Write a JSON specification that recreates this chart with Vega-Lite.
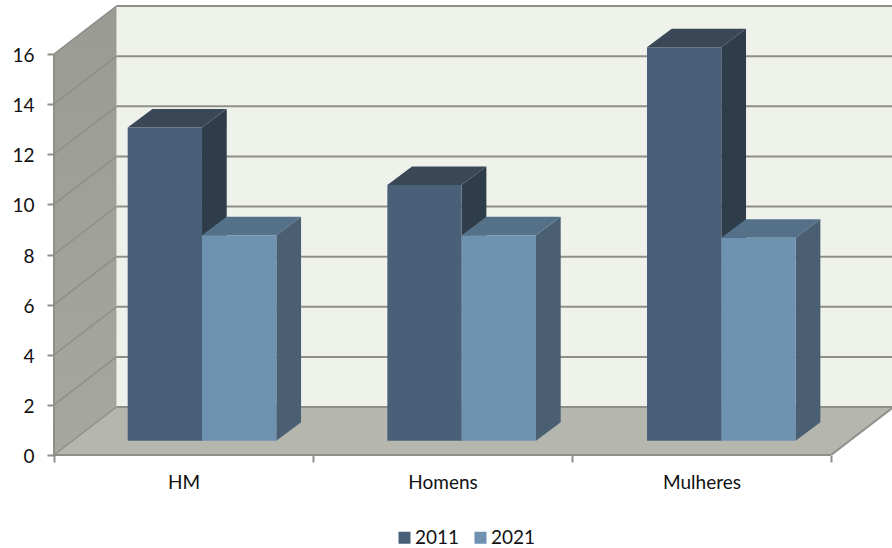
{
  "$schema": "https://vega.github.io/schema/vega-lite/v6.json",
  "width": 838,
  "height": 449,
  "autosize": {"type": "none"},
  "padding": {"left": 54, "top": 6, "right": 0, "bottom": 93},
  "background": "white",
  "config": {"font": "Lato", "view": {"stroke": null}},
  "datasets": {
    "barras": [
      {"categoria": "HM", "ano": 2011, "valor": 12.5},
      {"categoria": "HM", "ano": 2021, "valor": 8.2},
      {"categoria": "Homens", "ano": 2011, "valor": 10.2},
      {"categoria": "Homens", "ano": 2021, "valor": 8.2},
      {"categoria": "Mulheres", "ano": 2011, "valor": 15.7},
      {"categoria": "Mulheres", "ano": 2021, "valor": 8.1}
    ],
    "escala": [
      {"v": 0}, {"v": 2}, {"v": 4}, {"v": 6}, {"v": 8},
      {"v": 10}, {"v": 12}, {"v": 14}, {"v": 16}
    ]
  },
  "layer": [
    {
      "data": {"values": [{"id": 1}]},
      "mark": {"type": "rect", "fill": "#eff2eb"},
      "encoding": {
        "x": {
          "datum": 0.2413,
          "type": "quantitative",
          "title": null,
          "scale": {"domain": [0, 3.2355], "nice": false, "zero": false},
          "axis": {
            "values": [0, 0.5, 1, 1.5, 2, 2.5, 3],
            "labelExpr": "datum.value==0.5?'HM':datum.value==1.5?'Homens':datum.value==2.5?'Mulheres':''",
            "domain": false,
            "grid": false,
            "tickColor": "#8e8f89",
            "tickWidth": 2,
            "tickSize": 7,
            "tickOpacity": {"condition": {"test": "datum.value%1==0", "value": 1}, "value": 0},
            "labelFontSize": 19,
            "labelColor": "#111111",
            "labelPadding": 11,
            "labelFlush": false,
            "labelOverlap": false
          }
        },
        "x2": {"datum": 3.2355},
        "y": {
          "datum": 1.915,
          "type": "quantitative",
          "title": null,
          "scale": {"domain": [0, 17.917], "nice": false, "zero": false},
          "axis": {
            "values": [0, 2, 4, 6, 8, 10, 12, 14, 16],
            "format": "d",
            "domain": false,
            "grid": false,
            "tickColor": "#8e8f89",
            "tickWidth": 2,
            "tickSize": 7,
            "labelFontSize": 19,
            "labelColor": "#111111",
            "labelPadding": 13,
            "labelOffset": 1.5
          }
        },
        "y2": {"datum": 17.917}
      }
    },
    {
      "data": {"values": [{"t": 0}, {"t": 1}]},
      "transform": [
        {"calculate": "datum.t*0.2413", "as": "px"},
        {"calculate": "16+datum.t*1.915", "as": "py"},
        {"calculate": "datum.t*1.915", "as": "py2"}
      ],
      "mark": {
        "type": "area",
        "fill": {
          "gradient": "linear", "x1": 0, "y1": 0, "x2": 0, "y2": 1,
          "stops": [{"offset": 0, "color": "#9a9b93"}, {"offset": 1, "color": "#a6a79e"}]
        }
      },
      "encoding": {
        "x": {"field": "px", "type": "quantitative", "title": null},
        "y": {"field": "py", "type": "quantitative", "stack": null, "title": null},
        "y2": {"field": "py2", "title": null}
      }
    },
    {
      "data": {"values": [{"t": 0}, {"t": 1}, {"t": 2}, {"t": 3}]},
      "transform": [
        {"calculate": "[0,0.2413,3,3.2413][datum.t]", "as": "px"},
        {"calculate": "datum.t==0?0:1.915", "as": "py"},
        {"calculate": "datum.t==3?1.915:0", "as": "py2"}
      ],
      "mark": {"type": "area", "fill": "#b5b7af", "clip": true},
      "encoding": {
        "x": {"field": "px", "type": "quantitative", "title": null},
        "y": {"field": "py", "type": "quantitative", "stack": null, "title": null},
        "y2": {"field": "py2", "title": null}
      }
    },
    {
      "data": {"name": "escala"},
      "transform": [
        {"calculate": "datum.v+1.915", "as": "vf"}
      ],
      "mark": {"type": "rule", "stroke": "#8e8f89", "strokeWidth": 2},
      "encoding": {
        "x": {"datum": 0.2413, "type": "quantitative", "title": null},
        "x2": {"datum": 3.2355},
        "y": {"field": "vf", "type": "quantitative", "title": null}
      }
    },
    {
      "data": {"name": "escala"},
      "transform": [
        {"calculate": "datum.v+1.915", "as": "vf"}
      ],
      "mark": {"type": "rule", "stroke": "#8e8f89", "strokeWidth": 1.5},
      "encoding": {
        "x": {"datum": 0, "type": "quantitative", "title": null},
        "x2": {"datum": 0.2413},
        "y": {"field": "v", "type": "quantitative", "title": null},
        "y2": {"field": "vf", "title": null}
      }
    },
    {
      "data": {"values": [{"id": 1}]},
      "mark": {"type": "rule", "stroke": "#8e8f89", "strokeWidth": 2},
      "encoding": {
        "x": {"datum": 0, "type": "quantitative", "title": null},
        "y": {"datum": 0, "type": "quantitative", "title": null},
        "y2": {"datum": 16}
      }
    },
    {
      "data": {"values": [{"id": 1}]},
      "mark": {"type": "rule", "stroke": "#8e8f89", "strokeWidth": 2},
      "encoding": {
        "x": {"datum": 0, "type": "quantitative", "title": null},
        "x2": {"datum": 3},
        "y": {"datum": 0, "type": "quantitative", "title": null}
      }
    },
    {
      "data": {"values": [{"id": 1}]},
      "mark": {"type": "rule", "stroke": "#8e8f89", "strokeWidth": 2, "clip": true},
      "encoding": {
        "x": {"datum": 3, "type": "quantitative", "title": null},
        "x2": {"datum": 3.2413},
        "y": {"datum": 0, "type": "quantitative", "title": null},
        "y2": {"datum": 1.915}
      }
    },
    {
      "data": {"name": "barras"},
      "transform": [
        {"calculate": "indexof(['HM','Homens','Mulheres'],datum.categoria)*1.0025+0.2845+(datum.ano==2021?0.287:0)", "as": "esq"},
        {"calculate": "0.57+datum.valor", "as": "topo"}
      ],
      "resolve": {"scale": {"color": "independent"}},
      "layer": [
        {
          "transform": [
            {"calculate": "[0,1]", "as": "t"},
            {"flatten": ["t"]},
            {"calculate": "datum.esq+0.287+datum.t*0.0954", "as": "px"},
            {"calculate": "datum.topo+datum.t*0.738", "as": "py"},
            {"calculate": "0.57+datum.t*0.738", "as": "py2"}
          ],
          "mark": {"type": "area"},
          "encoding": {
            "x": {"field": "px", "type": "quantitative", "title": null},
            "y": {"field": "py", "type": "quantitative", "stack": null, "title": null},
            "y2": {"field": "py2", "title": null},
            "detail": {"field": "categoria"},
            "color": {
              "field": "ano",
              "type": "nominal",
              "scale": {"domain": [2011, 2021], "range": ["#2e3d49", "#4a5f72"]},
              "legend": null
            }
          }
        },
        {
          "transform": [
            {"calculate": "[0,1,2,3]", "as": "t"},
            {"flatten": ["t"]},
            {"calculate": "datum.esq+[0,0.0954,0.287,0.3824][datum.t]", "as": "px"},
            {"calculate": "datum.topo+(datum.t==0?0:0.738)", "as": "py"},
            {"calculate": "datum.topo+(datum.t==3?0.738:0)", "as": "py2"}
          ],
          "mark": {"type": "area"},
          "encoding": {
            "x": {"field": "px", "type": "quantitative", "title": null},
            "y": {"field": "py", "type": "quantitative", "stack": null, "title": null},
            "y2": {"field": "py2", "title": null},
            "detail": {"field": "categoria"},
            "color": {
              "field": "ano",
              "type": "nominal",
              "scale": {"domain": [2011, 2021], "range": ["#3a4757", "#557089"]},
              "legend": null
            }
          }
        },
        {
          "transform": [
            {"calculate": "datum.esq+0.287", "as": "dir"},
            {"calculate": "0.57", "as": "base"}
          ],
          "mark": {"type": "rect"},
          "encoding": {
            "x": {"field": "esq", "type": "quantitative", "title": null},
            "x2": {"field": "dir", "title": null},
            "y": {"field": "topo", "type": "quantitative", "title": null},
            "y2": {"field": "base", "title": null},
            "color": {
              "field": "ano",
              "type": "nominal",
              "scale": {"domain": [2011, 2021], "range": ["#4a6078", "#6f92b0"]},
              "legend": {
                "title": null,
                "orient": "none",
                "legendX": 341,
                "legendY": 522,
                "direction": "horizontal",
                "symbolType": "square",
                "symbolSize": 144,
                "symbolStrokeWidth": 0,
                "labelFontSize": 19,
                "labelColor": "#111111",
                "labelOffset": 1,
                "columnPadding": 11
              }
            }
          }
        }
      ]
    }
  ]
}
